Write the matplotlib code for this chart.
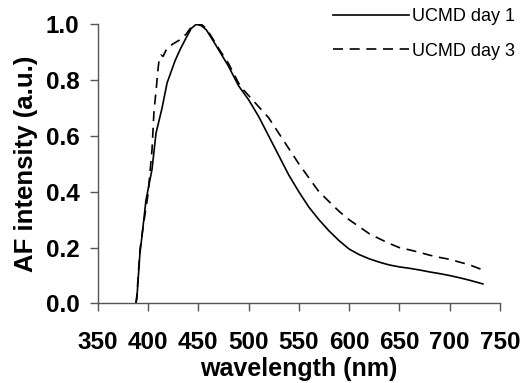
import numpy as np
import matplotlib
matplotlib.use("Agg")
import matplotlib.pyplot as plt

plt.rcParams['font.family'] = ['Liberation Sans', 'DejaVu Sans']

# UCMD day 1 (solid)
wl_day1 = [388, 389, 392, 394, 398, 404, 408, 414, 419, 427, 432, 437, 443, 448,
           453, 458, 465, 470, 480, 490, 500, 510, 520, 530, 540, 550, 560, 570,
           580, 590, 600, 610, 620, 630, 640, 650, 660, 670, 680, 690, 700, 710,
           720, 733]
af_day1 = [0.0, 0.02, 0.18, 0.24, 0.37, 0.48, 0.61, 0.70, 0.79, 0.87, 0.91, 0.945,
           0.985, 1.0, 0.995, 0.98, 0.94, 0.91, 0.85, 0.78, 0.73, 0.67, 0.60, 0.53,
           0.46, 0.40, 0.345, 0.30, 0.26, 0.225, 0.195, 0.175, 0.16, 0.148, 0.138,
           0.131, 0.126, 0.12, 0.113, 0.107, 0.10, 0.092, 0.083, 0.07]

# UCMD day 3 (dashed)
wl_day3 = [388, 389, 392, 395, 400, 404, 406, 408, 410, 411, 413, 415, 419, 425,
           432, 438, 443, 448, 453, 458, 465, 470, 480, 490, 495, 500, 510, 520,
           530, 540, 550, 560, 570, 580, 590, 600, 610, 620, 630, 640, 650, 660,
           670, 680, 690, 700, 710, 720, 733]
af_day3 = [0.0, 0.03, 0.19, 0.27, 0.39, 0.55, 0.69, 0.76, 0.84, 0.87, 0.89, 0.885,
           0.915, 0.93, 0.945, 0.965, 0.99, 1.0, 1.0, 0.985, 0.945, 0.915, 0.86,
           0.79, 0.765, 0.745, 0.705, 0.665, 0.61, 0.555, 0.50, 0.45, 0.40, 0.365,
           0.33, 0.30, 0.275, 0.25, 0.232, 0.215, 0.20, 0.192, 0.183, 0.173, 0.165,
           0.158, 0.148, 0.138, 0.12]

xticks = [350, 400, 450, 500, 550, 600, 650, 700, 750]
yticks = [0.0, 0.2, 0.4, 0.6, 0.8, 1.0]

fig = plt.figure(figsize=(5.28, 3.83), dpi=100)
ax = fig.add_axes([0.185, 0.2076, 0.762, 0.729])

ax.plot(wl_day1, af_day1, color='black', linewidth=1.2, linestyle='-', label='UCMD day 1')
ax.plot(wl_day3, af_day3, color='black', linewidth=1.2, linestyle=(0, (6, 4)), label='UCMD day 3')

ax.set_xlim(350, 750)
ax.set_ylim(0, 1.0)
ax.set_xticks(xticks)
ax.set_yticks(yticks)
ax.set_yticklabels(['%.1f' % v for v in yticks])

# spines: only left and bottom, gray
ax.spines['right'].set_visible(False)
ax.spines['top'].set_visible(False)
for s in ['left', 'bottom']:
    ax.spines[s].set_color('#555555')
    ax.spines[s].set_linewidth(1.0)
ax.tick_params(direction='out', length=6, width=1.0, color='#555555')
ax.tick_params(axis='y', pad=7, labelsize=17.5)
ax.tick_params(axis='x', pad=14, labelsize=17.5)
for label in ax.get_xticklabels() + ax.get_yticklabels():
    label.set_fontweight('bold')

ax.set_xlabel('wavelength (nm)', fontsize=18, fontweight='bold', labelpad=2)
ax.set_ylabel('AF intensity (a.u.)', fontsize=18.5, fontweight='bold', labelpad=6)

fig.legend(loc='upper right', bbox_to_anchor=(0.975, 0.978), frameon=False,
           fontsize=13, handlelength=4.2, handletextpad=0.15, labelspacing=0.95,
           borderpad=0, borderaxespad=0)

fig.savefig('out.png', dpi=100)
